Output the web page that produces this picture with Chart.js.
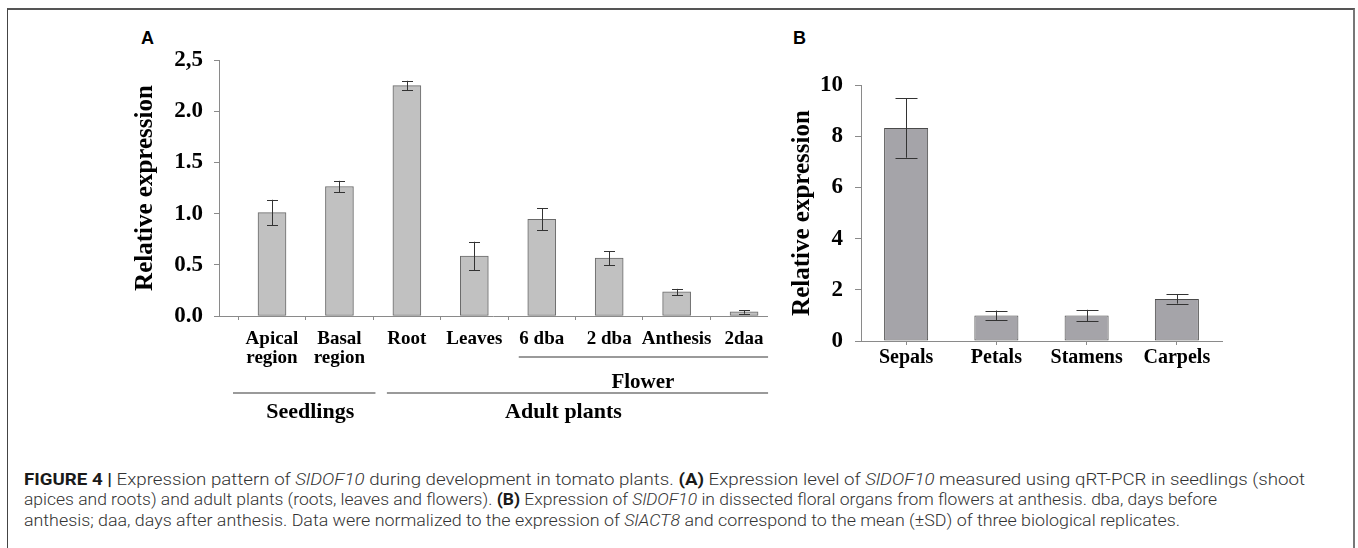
<!DOCTYPE html>
<html>
<head>
<meta charset="utf-8">
<script src="https://cdn.jsdelivr.net/npm/chart.js@4.4.1/dist/chart.umd.min.js"></script>
<style>
  body { margin: 0; width: 1358px; height: 548px; background: #fff; position: relative; overflow: hidden; }
  .frame { position: absolute; left: 7px; top: 8px; width: 1345px; height: 600px;
           border-top: 2px solid #555; border-left: 1px solid #444; border-right: 2px solid #777; }
  canvas { position: absolute; }
  .panel { position: absolute; font: bold 18px "Liberation Sans", Arial, sans-serif; color: #000; line-height: 18px; }
  .cap { position: absolute; left: 24px; font: 300 17px Roboto, "Liberation Sans", sans-serif; color: #333;
         line-height: 17px; white-space: nowrap; transform-origin: 0 0; }
  .cap b { color: #1a1a1a; font-weight: bold; }
</style>
</head>
<body>
<div class="frame"></div>
<div class="panel" style="left:141px;top:29px;">A</div>
<div class="panel" style="left:793px;top:29px;">B</div>
<canvas id="chartA" width="690" height="420" style="left:100px;top:20px;"></canvas>
<canvas id="chartB" width="470" height="360" style="left:780px;top:20px;"></canvas>

<div class="cap" data-w="1281" style="top:471px;"><b>FIGURE 4 |</b> Expression pattern of <i>SlDOF10</i> during development in tomato plants. <b>(A)</b> Expression level of <i>SlDOF10</i> measured using qRT-PCR in seedlings (shoot</div>
<div class="cap" data-w="1193" style="top:491px;">apices and roots) and adult plants (roots, leaves and flowers). <b>(B)</b> Expression of <i>SlDOF10</i> in dissected floral organs from flowers at anthesis. dba, days before</div>
<div class="cap" data-w="1156" style="top:512px;">anthesis; daa, days after anthesis. Data were normalized to the expression of <i>SlACT8</i> and correspond to the mean (±SD) of three biological replicates.</div>

<script>
// Panel A data
const catsA = [['Apical', 'region'], ['Basal', 'region'], 'Root', 'Leaves', '6 dba', '2 dba', 'Anthesis', '2daa'];
const valsA = [1.01, 1.265, 2.25, 0.585, 0.943, 0.565, 0.235, 0.04];
const errA = [0.125, 0.055, 0.047, 0.14, 0.107, 0.067, 0.03, 0.018];
const ticksA = ['0.0', '0.5', '1.0', '1.5', '2.0', '2,5'];
const groupsA = [['Seedlings', 0, 1], ['Adult plants', 2, 7]];
const subGroupsA = [['Flower', 4, 7]];

// Panel B data
const catsB = ['Sepals', 'Petals', 'Stamens', 'Carpels'];
const valsB = [8.32, 1.0, 1.0, 1.64];
const errB = [1.16, 0.19, 0.22, 0.18];
const ticksB = ['0', '2', '4', '6', '8', '10'];

const serif = '"Liberation Serif", "Times New Roman", serif';
const axisGray = '#8a8a8a';

function errorBars(errs, half) {
    return {
        id: 'errorBars',
        afterDatasetsDraw(chart) {
            const ctx = chart.ctx;
            const y = chart.scales.y;
            const vals = chart.data.datasets[0].data;
            ctx.save();
            ctx.strokeStyle = '#333';
            ctx.lineWidth = 1;
            chart.getDatasetMeta(0).data.forEach((bar, i) => {
                const v = typeof vals[i] === 'object' ? vals[i].y : vals[i];
                const top = y.getPixelForValue(v + errs[i]);
                const bot = y.getPixelForValue(v - errs[i]);
                const x = Math.round(bar.x) + 0.5;
                ctx.beginPath();
                ctx.moveTo(x, top); ctx.lineTo(x, bot);
                ctx.moveTo(x - half, Math.round(top) + 0.5); ctx.lineTo(x + half, Math.round(top) + 0.5);
                ctx.moveTo(x - half, Math.round(bot) + 0.5); ctx.lineTo(x + half, Math.round(bot) + 0.5);
                ctx.stroke();
            });
            ctx.restore();
        }
    };
}

// group brackets under panel A
const groupLabels = {
    id: 'groupLabels',
    afterDraw(chart) {
        const ctx = chart.ctx;
        const x = chart.scales.x;
        ctx.save();
        ctx.strokeStyle = '#9a9a9a';
        ctx.lineWidth = 2;
        ctx.fillStyle = '#000';
        ctx.textAlign = 'center';
        ctx.textBaseline = 'alphabetic';

        subGroupsA.forEach(([label, a, b]) => {
            const x0 = x.getPixelForValue(a) - 23, x1 = x.getPixelForValue(b) + 24;
            ctx.beginPath(); ctx.moveTo(x0, 337); ctx.lineTo(x1, 337); ctx.stroke();
            ctx.font = 'bold 21px ' + serif;
            ctx.fillText(label, (x.getPixelForValue(a) + x.getPixelForValue(b)) / 2, 368);
        });

        groupsA.forEach(([label, a, b], gi) => {
            const x0 = x.getPixelForValue(a) - (gi === 0 ? 39 : 20);
            const x1 = x.getPixelForValue(b) + (gi === 0 ? 36 : 24);
            ctx.beginPath(); ctx.moveTo(x0, 373); ctx.lineTo(x1, 373); ctx.stroke();
            ctx.font = 'bold 22px ' + serif;
            ctx.fillText(label, (x0 + x1) / 2 + (gi === 0 ? 6 : -14), 398);
        });
        ctx.restore();
    }
};

const yTitle = {
    display: true,
    text: 'Relative expression',
    color: '#000',
    font: { family: serif, size: 25, weight: 'bold', lineHeight: 1.2 },
    padding: { top: 4, bottom: 4 }
};

// Chart A
new Chart(document.getElementById('chartA'), {
    type: 'bar',
    data: {
        datasets: [{
            data: valsA.map((v, i) => ({ x: i, y: v })),
            backgroundColor: '#c1c1c1',
            borderColor: '#6a6a6a',
            borderWidth: 1,
            borderSkipped: false,
            barThickness: 28
        }]
    },
    options: {
        responsive: false,
        animation: false,
        layout: { padding: { left: 27, top: 40, right: 23, bottom: 0 } },
        plugins: { legend: { display: false }, tooltip: { enabled: false } },
        scales: {
            x: {
                type: 'linear',
                min: -0.786, max: 7.34,
                offset: false,
                afterBuildTicks: s => { s.ticks = catsA.map((_, i) => ({ value: i })); },
                afterFit: s => { s.height = 124; },
                ticks: {
                    callback: v => catsA[v],
                    color: '#000',
                    padding: 10,
                    maxRotation: 0,
                    autoSkip: false,
                    font: { family: serif, size: 19, weight: 'bold', lineHeight: 1.0 }
                },
                grid: { drawOnChartArea: false, drawTicks: true, tickLength: 4, color: axisGray },
                border: { color: axisGray, width: 1 }
            },
            y: {
                min: 0, max: 2.5,
                afterFit: s => { s.width = 92; },
                ticks: {
                    stepSize: 0.5,
                    callback: (v, i) => ticksA[i],
                    color: '#000',
                    padding: 11,
                    font: { family: serif, size: 23, weight: 'bold' }
                },
                grid: { drawOnChartArea: false, drawTicks: true, tickLength: 5, color: axisGray },
                border: { color: axisGray, width: 1 },
                title: yTitle
            }
        }
    },
    plugins: [errorBars(errA, 5.5), groupLabels]
});

// Chart B
new Chart(document.getElementById('chartB'), {
    type: 'bar',
    data: {
        labels: catsB,
        datasets: [{
            data: valsB,
            backgroundColor: '#a5a4a9',
            borderColor: '#4a4a4a',
            borderWidth: 1,
            borderSkipped: false,
            categoryPercentage: 1,
            barPercentage: 0.488
        }]
    },
    options: {
        responsive: false,
        animation: false,
        layout: { padding: { left: 4, top: 65, right: 28, bottom: 0 } },
        plugins: { legend: { display: false }, tooltip: { enabled: false } },
        scales: {
            x: {
                afterFit: s => { s.height = 39; },
                ticks: {
                    color: '#000',
                    padding: 3,
                    maxRotation: 0,
                    font: { family: serif, size: 20, weight: 'bold', lineHeight: 1.0 }
                },
                grid: { drawOnChartArea: false, drawTicks: true, tickLength: 4, color: axisGray, offset: false },
                border: { color: axisGray, width: 1 }
            },
            y: {
                min: 0, max: 10,
                afterFit: s => { s.width = 77; },
                ticks: {
                    stepSize: 2,
                    callback: (v, i) => ticksB[i],
                    color: '#000',
                    padding: 12,
                    font: { family: serif, size: 23, weight: 'bold' }
                },
                grid: { drawOnChartArea: false, drawTicks: true, tickLength: 6, color: axisGray },
                border: { color: axisGray, width: 1 },
                title: yTitle
            }
        }
    },
    plugins: [errorBars(errB, 11)]
});

// squeeze caption lines to the widths seen in the figure
document.querySelectorAll('.cap').forEach(el => {
    const w = el.getBoundingClientRect().width;
    el.style.transform = 'scaleX(' + (Number(el.dataset.w) / w) + ')';
});
</script>
</body>
</html>
